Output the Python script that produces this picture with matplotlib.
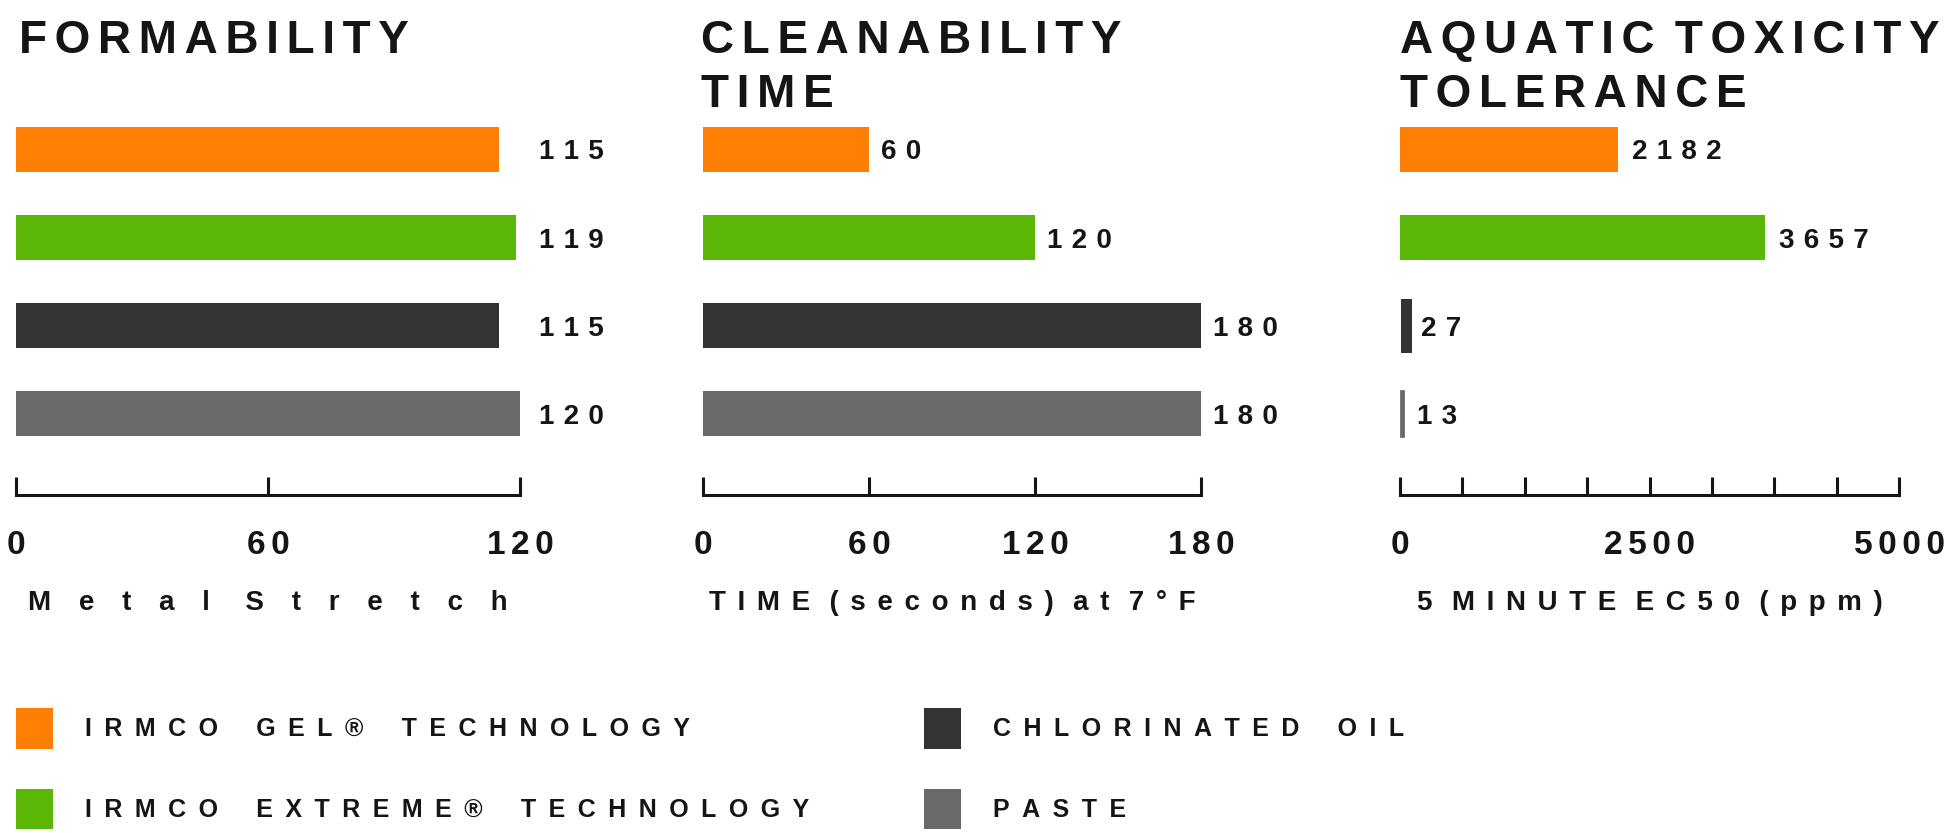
import matplotlib
matplotlib.use("Agg")
import matplotlib.pyplot as plt
from matplotlib.transforms import offset_copy

# ---------------- data ----------------
series = ["IRMCO GEL® TECHNOLOGY", "IRMCO EXTREME® TECHNOLOGY",
          "CHLORINATED OIL", "PASTE"]
colors = ["#FF7F05", "#5BB705", "#333333", "#696969"]

formability = [115, 119, 115, 120]
cleanability = [60, 120, 180, 180]
toxicity = [2182, 3657, 27, 13]

titles = ["FORMABILITY", "CLEANABILITY\nTIME", "AQUATIC TOXICITY\nTOLERANCE"]
xlabels = ["Metal Stretch", "TIME (seconds) at 7°F", "5 MINUTE EC50 (ppm)"]

form_ticks = [0, 60, 120]
form_tick_labels = ["0", "60", "120"]
clean_ticks = [0, 60, 120, 180]
clean_tick_labels = ["0", "60", "120", "180"]
tox_ticks = [0, 625, 1250, 1875, 2500, 3125, 3750, 4375, 5000]
tox_tick_labels = ["0", "", "", "", "2500", "", "", "", "5000"]

# ---------------- figure ----------------
W, H, DPI = 1951, 833, 100
fig = plt.figure(figsize=(W / DPI, H / DPI), dpi=DPI)
FAM = ["Liberation Sans", "DejaVu Sans"]
plt.rcParams["font.family"] = FAM
plt.rcParams["font.weight"] = "bold"
INK = "#151515"


def fx(x):
    return x / W


def fy(y):
    return 1 - y / H


def track(text, sep, word_gap=" "):
    out = []
    for line in text.split("\n"):
        words = line.split(" ")
        out.append((sep + word_gap).join(sep.join(w) for w in words))
    return "\n".join(out)


panels = [
    dict(vals=formability, xmax=120, ticks=form_ticks, tl=form_tick_labels,
         left=16, right=520, title=titles[0], xlabel=xlabels[0],
         label_at_max=True, off=19, lw=[0, 0, 0, 0], title_x=19,
         xl_sep="\u2003"),
    dict(vals=cleanability, xmax=180, ticks=clean_ticks, tl=clean_tick_labels,
         left=703, right=1201, title=titles[1], xlabel=xlabels[1],
         label_at_max=False, off=12, lw=[0, 0, 0, 0], title_x=701,
         xl_sep="\u2004\u200a"),
    dict(vals=toxicity, xmax=5000, ticks=tox_ticks, tl=tox_tick_labels,
         left=1400, right=1899, title=titles[2], xlabel=xlabels[2],
         label_at_max=False, off=14, lw=[0, 0, 6.5, 2.0], title_x=1400,
         xl_sep="\u2004\u200a"),
]

ax_top, ax_bot = 100, 495
ypos = [0, 1, 2, 3]
first_ax = None
for p in panels:
    ax = fig.add_axes([fx(p["left"]), fy(ax_bot), (p["right"] - p["left"]) / W,
                       (ax_bot - ax_top) / H])
    if first_ax is None:
        first_ax = ax
    for i, v in enumerate(p["vals"]):
        bars = ax.barh(ypos[i], v, height=0.51, color=colors[i],
                       edgecolor=colors[i], linewidth=p["lw"][i],
                       label=track(series[i], "\u2002", " \u2002\u2005"),
                       clip_on=False)
        if p["lw"][i] > 0:
            # keep the thin outline of very small bars right of the zero line
            for b in bars:
                b.set_transform(offset_copy(ax.transData, fig=fig,
                                            x=p["lw"][i] / 2, y=0,
                                            units="points"))
        anchor = p["xmax"] if p["label_at_max"] else v
        ax.annotate(track(str(v), "\u2004"), xy=(anchor, ypos[i]),
                    xytext=((p["off"] + p["lw"][i] * DPI / 72 / 2) * 72 / DPI, 0),
                    textcoords="offset points", ha="left", va="center_baseline",
                    fontsize=20, fontweight="bold", color=INK,
                    annotation_clip=False)
    ax.set_xlim(0, p["xmax"])
    ax.set_ylim(3.92, -0.56)
    for s in ["top", "left", "right"]:
        ax.spines[s].set_visible(False)
    ax.spines["bottom"].set_linewidth(2.2)
    ax.spines["bottom"].set_color(INK)
    ax.set_yticks([])
    ax.set_xticks(p["ticks"])
    ax.set_xticklabels([track(t, "\u2006") for t in p["tl"]], fontsize=24,
                       fontweight="bold", color=INK)
    ax.tick_params(axis="x", direction="in", length=13, width=2.2, color=INK,
                   pad=25)
    ax.patch.set_alpha(0)
    # title and axis label
    fig.text(fx(p["title_x"]), fy(19), track(p["title"], "\u2006"),
             ha="left", va="top", fontsize=33, fontweight="bold", color=INK,
             linespacing=1.28)
    fig.text(fx((p["left"] + p["right"]) / 2), fy(610),
             track(p["xlabel"], p["xl_sep"]),
             ha="center", va="baseline", fontsize=20, fontweight="bold", color=INK)

handles, labels = first_ax.get_legend_handles_labels()
leg = fig.legend(handles, labels, ncol=2, loc="upper left",
                 bbox_to_anchor=(fx(16), fy(708)), frameon=False,
                 borderpad=0, borderaxespad=0, handlelength=1.48,
                 handleheight=2.12, handletextpad=1.28, labelspacing=1.6,
                 columnspacing=4.6, prop=dict(family=FAM, weight="bold", size=18))
for t in leg.get_texts():
    t.set_color(INK)

fig.savefig("out.png", dpi=DPI)
